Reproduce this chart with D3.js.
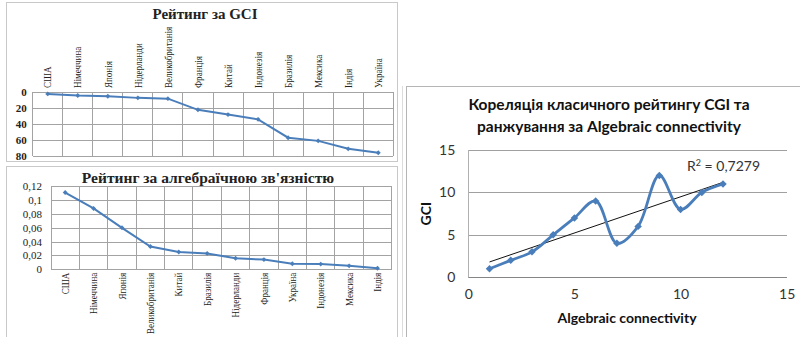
<!DOCTYPE html>
<html>
<head>
<meta charset="utf-8">
<script src="https://cdn.jsdelivr.net/npm/d3@7"></script>
<style>
  body { margin: 0; background: #fff; }
  svg { display: block; }
</style>
</head>
<body>
<svg id="chart" width="800" height="337"></svg>
<script>
// Рейтинг за GCI (місце країни)
const gciCountries = ["США", "Німеччина", "Японія", "Нідерланди", "Великобританія", "Франція",
  "Китай", "Індонезія", "Бразилія", "Мексика", "Індія", "Україна"];
const gciValues = [2, 4, 5, 7, 8, 22, 28, 34, 57, 61, 71, 76];
const gciTicks = [0, 20, 40, 60, 80];

// Рейтинг за алгебраїчною зв'язністю
const algCountries = ["США", "Німеччина", "Японія", "Великобританія", "Китай", "Бразилія",
  "Нідерланди", "Франція", "Україна", "Індонезія", "Мексика", "Індія"];
const algValues = [0.111, 0.088, 0.060, 0.033, 0.025, 0.023, 0.016, 0.014, 0.008, 0.0075, 0.005, 0.0015];
const algTicks = [0, 0.02, 0.04, 0.06, 0.08, 0.1, 0.12];

// Кореляція: місце за Algebraic connectivity vs місце за GCI
const rankAlg = [1, 2, 3, 4, 5, 6, 7, 8, 9, 10, 11, 12];
const rankGci = [1, 2, 3, 5, 7, 9, 4, 6, 12, 8, 10, 11];
const corrTicks = [0, 5, 10, 15];

const BLUE = "#4a7ebb";
const SERIF = "'Liberation Serif', 'Times New Roman', serif";
const SANS = "Lato, 'Open Sans', sans-serif";
const fmtComma = d => String(d).replace(".", ",");

const svg = d3.select("#chart");
svg.append("rect").attr("width", 800).attr("height", 337).attr("fill", "#fff");

// panel frames
const frames = svg.append("g").attr("fill", "none").attr("stroke", "#c9c9c9").attr("stroke-width", 1);
frames.append("rect").attr("x", 6.5).attr("y", 2.5).attr("width", 391).attr("height", 159);
frames.append("rect").attr("x", 6.5).attr("y", 166.5).attr("width", 391).attr("height", 180);
frames.append("line").attr("x1", 402.5).attr("x2", 402.5).attr("y1", 86).attr("y2", 337).attr("stroke", "#dcdcdc");
frames.append("rect").attr("x", 406.5).attr("y", 86.5).attr("width", 400).attr("height", 260).attr("stroke", "#b5b5b5");

const diamond = (sel, size) => sel.attr("d", d3.symbol(d3.symbolSquare, size)());

// ---------- Рейтинг за GCI ----------
{
  const x = d3.scaleBand().domain(gciCountries).range([32.7, 393.3]);
  const y = d3.scaleLinear().domain([0, 80]).range([92.3, 156]);
  const g = svg.append("g");

  // vertical grid at category boundaries
  g.append("g").selectAll("line")
    .data(gciCountries.map(d => x(d)).concat([x.range()[1]]))
    .join("line")
    .attr("x1", d => d).attr("x2", d => d)
    .attr("y1", y(0)).attr("y2", y(80))
    .attr("stroke", "#a3a3a3").attr("shape-rendering", "crispEdges");

  const ya = g.append("g").attr("transform", `translate(${x.range()[0]},0)`)
    .call(d3.axisLeft(y).tickValues(gciTicks).tickSize(-(x.range()[1] - x.range()[0])).tickPadding(6));
  ya.select(".domain").remove();
  ya.selectAll(".tick line").attr("stroke", "#a3a3a3").attr("shape-rendering", "crispEdges");
  ya.selectAll("text").attr("font-family", SERIF).attr("font-size", 11).attr("font-weight", "bold").attr("fill", "#222");

  const xa = g.append("g").attr("transform", `translate(0,${y(0)})`)
    .call(d3.axisTop(x).tickSize(0).tickPadding(5));
  xa.select(".domain").remove();
  xa.selectAll("text")
    .attr("font-family", SERIF).attr("font-size", 10.5).attr("fill", "#222")
    .attr("text-anchor", "start").attr("x", 5).attr("y", 0).attr("dy", "0.35em")
    .attr("transform", "rotate(-90) scale(0.86,1)");

  const line = d3.line().x((d, i) => x(gciCountries[i]) + x.bandwidth() / 2).y(d => y(d));
  g.append("path").datum(gciValues).attr("d", line)
    .attr("fill", "none").attr("stroke", BLUE).attr("stroke-width", 2);
  g.append("g").selectAll("path").data(gciValues).join("path")
    .call(diamond, 12)
    .attr("transform", (d, i) => `translate(${x(gciCountries[i]) + x.bandwidth() / 2},${y(d)}) rotate(45)`)
    .attr("fill", BLUE);

  g.append("text").attr("x", 205).attr("y", 19).attr("text-anchor", "middle")
    .attr("font-family", SERIF).attr("font-size", 15).attr("font-weight", "bold").attr("fill", "#222")
    .text("Рейтинг за GCI");
}

// ---------- Рейтинг за алгебраїчною зв'язністю ----------
{
  const x = d3.scaleBand().domain(algCountries).range([51, 391.7]);
  const y = d3.scaleLinear().domain([0, 0.12]).range([269.3, 186.3]);
  const g = svg.append("g");

  g.append("g").selectAll("line")
    .data(algCountries.map(d => x(d)).concat([x.range()[1]]))
    .join("line")
    .attr("x1", d => d).attr("x2", d => d)
    .attr("y1", y(0)).attr("y2", y(0.12))
    .attr("stroke", "#a3a3a3").attr("shape-rendering", "crispEdges");

  const ya = g.append("g").attr("transform", `translate(${x.range()[0]},0)`)
    .call(d3.axisLeft(y).tickValues(algTicks).tickSize(-(x.range()[1] - x.range()[0])).tickPadding(9)
      .tickFormat(d => fmtComma(+d.toFixed(2))));
  ya.select(".domain").remove();
  ya.selectAll(".tick line").attr("stroke", "#a3a3a3").attr("shape-rendering", "crispEdges");
  ya.selectAll("text").attr("font-family", SERIF).attr("font-size", 11).attr("fill", "#222");

  const xa = g.append("g").attr("transform", `translate(0,${y(0)})`)
    .call(d3.axisBottom(x).tickSize(0).tickPadding(4));
  xa.select(".domain").remove();
  xa.selectAll("text")
    .attr("font-family", SERIF).attr("font-size", 10.5).attr("fill", "#222")
    .attr("text-anchor", "end").attr("x", -4).attr("y", 0).attr("dy", "0.35em")
    .attr("transform", "rotate(-90) scale(0.86,1)");

  const line = d3.line().x((d, i) => x(algCountries[i]) + x.bandwidth() / 2).y(d => y(d));
  g.append("path").datum(algValues).attr("d", line)
    .attr("fill", "none").attr("stroke", BLUE).attr("stroke-width", 2);
  g.append("g").selectAll("path").data(algValues).join("path")
    .call(diamond, 12)
    .attr("transform", (d, i) => `translate(${x(algCountries[i]) + x.bandwidth() / 2},${y(d)}) rotate(45)`)
    .attr("fill", BLUE);

  g.append("text").attr("x", 208).attr("y", 183).attr("text-anchor", "middle")
    .attr("font-family", SERIF).attr("font-size", 15.5).attr("font-weight", "bold").attr("fill", "#222")
    .text("Рейтинг за алгебраїчною зв'язністю");
}

// ---------- Кореляція ----------
{
  const x = d3.scaleLinear().domain([0, 15]).range([468.3, 786.7]);
  const y = d3.scaleLinear().domain([0, 15]).range([277.3, 150]);
  const g = svg.append("g");

  const ya = g.append("g").attr("transform", `translate(${x(0)},0)`)
    .call(d3.axisLeft(y).tickValues(corrTicks).tickSize(-(x(15) - x(0))).tickPadding(13));
  ya.select(".domain").remove();
  ya.selectAll(".tick line").attr("stroke", "#a0a0a0").attr("shape-rendering", "crispEdges");
  ya.selectAll("text").attr("font-family", SANS).attr("font-size", 14).attr("fill", "#333");

  // vertical axis line
  g.append("line").attr("x1", x(0)).attr("x2", x(0)).attr("y1", y(15)).attr("y2", y(0))
    .attr("stroke", "#b0b0b0").attr("shape-rendering", "crispEdges");

  const xa = g.append("g").attr("transform", `translate(0,${y(0)})`)
    .call(d3.axisBottom(x).tickValues(corrTicks).tickSize(0).tickPadding(12));
  xa.select(".domain").attr("stroke", "#868686").attr("shape-rendering", "crispEdges");
  xa.selectAll("text").attr("font-family", SANS).attr("font-size", 14).attr("fill", "#333");

  // linear trend
  const mx = d3.mean(rankAlg), my = d3.mean(rankGci);
  const sxy = d3.sum(rankAlg, (v, i) => (v - mx) * (rankGci[i] - my));
  const sxx = d3.sum(rankAlg, v => (v - mx) ** 2);
  const syy = d3.sum(rankGci, v => (v - my) ** 2);
  const slope = sxy / sxx, icpt = my - slope * mx;
  const r2 = (sxy * sxy) / (sxx * syy);
  const xmin = d3.min(rankAlg), xmax = d3.max(rankAlg);
  g.append("line")
    .attr("x1", x(xmin)).attr("y1", y(icpt + slope * xmin))
    .attr("x2", x(xmax)).attr("y2", y(icpt + slope * xmax))
    .attr("stroke", "#111").attr("stroke-width", 1);

  const pts = rankAlg.map((v, i) => [v, rankGci[i]]);
  g.append("path").datum(pts)
    .attr("d", d3.line().x(d => x(d[0])).y(d => y(d[1])).curve(d3.curveCatmullRom.alpha(0.5)))
    .attr("fill", "none").attr("stroke", BLUE).attr("stroke-width", 2.8);
  g.append("g").selectAll("path").data(pts).join("path")
    .call(diamond, 28)
    .attr("transform", d => `translate(${x(d[0])},${y(d[1])}) rotate(45)`)
    .attr("fill", BLUE);

  const r2t = g.append("text").attr("x", 687).attr("y", 171)
    .attr("font-family", SANS).attr("font-size", 14).attr("fill", "#333");
  r2t.append("tspan").text("R");
  r2t.append("tspan").attr("dy", -5).attr("font-size", 9).text("2");
  r2t.append("tspan").attr("dy", 5).text(" = " + fmtComma(r2.toFixed(4)));

  g.append("text").attr("x", 609).attr("y", 110).attr("text-anchor", "middle")
    .attr("font-family", SANS).attr("font-size", 15.5).attr("font-weight", "bold").attr("fill", "#111")
    .text("Кореляція класичного рейтингу CGI та");
  g.append("text").attr("x", 609).attr("y", 132).attr("text-anchor", "middle")
    .attr("font-family", SANS).attr("font-size", 15.5).attr("font-weight", "bold").attr("fill", "#111")
    .text("ранжування за Algebraic connectivity");

  g.append("text").attr("x", 627).attr("y", 323).attr("text-anchor", "middle")
    .attr("font-family", SANS).attr("font-size", 14).attr("font-weight", "bold").attr("fill", "#111")
    .text("Algebraic connectivity");
  g.append("text").attr("transform", `translate(431,${(y(0) + y(15)) / 2}) rotate(-90)`)
    .attr("text-anchor", "middle")
    .attr("font-family", SANS).attr("font-size", 14).attr("font-weight", "bold").attr("fill", "#111")
    .text("GCI");
}
</script>
</body>
</html>
